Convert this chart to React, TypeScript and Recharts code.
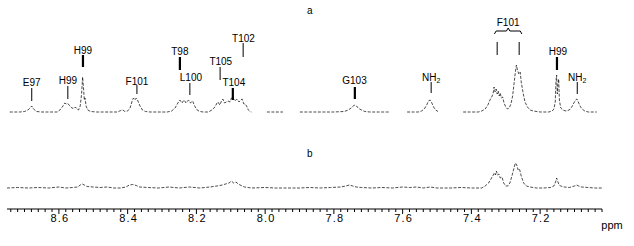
import { ComposedChart, Line, XAxis, YAxis, ReferenceLine, Scatter } from 'recharts';

// spectrum a (top trace), [ppm, intensity above its baseline]; null = cut region
const spectrumA: [number, number | null][] = [
	[8.743, 0], [8.714, 0], [8.7, 0.5], [8.69, 2], [8.684, 4], [8.679, 6], [8.674, 3], [8.665, 0.5], [8.65, 0],
	[8.605, 0], [8.597, 2], [8.59, 5], [8.583, 9], [8.578, 8], [8.574, 8.5], [8.568, 6], [8.562, 4], [8.556, 3.5],
	[8.552, 5], [8.548, 3], [8.543, 2], [8.538, 6], [8.534, 18], [8.531, 35], [8.528, 22], [8.526, 12], [8.524, 14],
	[8.521, 6], [8.516, 2], [8.508, 0.5], [8.49, 0],
	[8.43, 0], [8.42, 1.5], [8.414, 2], [8.408, 0.5], [8.4, 1], [8.393, 4], [8.386, 12], [8.383, 14], [8.379, 12],
	[8.375, 14], [8.37, 11], [8.364, 6], [8.357, 2], [8.348, 0.5], [8.335, 0],
	[8.285, 0], [8.272, 1], [8.262, 4], [8.254, 9], [8.248, 12], [8.242, 9], [8.236, 12], [8.23, 9], [8.223, 12],
	[8.217, 9], [8.211, 11], [8.205, 6], [8.198, 2], [8.19, 0.5], [8.18, 0],
	[8.165, 0], [8.155, 2], [8.146, 5], [8.14, 9], [8.137, 10], [8.132, 7], [8.127, 11], [8.123, 13], [8.118, 9],
	[8.113, 10], [8.108, 11], [8.102, 10], [8.098, 14], [8.094, 15], [8.089, 11], [8.085, 12], [8.082, 13],
	[8.076, 10], [8.071, 12], [8.067, 13], [8.062, 8], [8.058, 8], [8.054, 6], [8.049, 2], [8.044, 0.5], [8.04, 0],
	[8.02, null],
	[7.995, 0], [7.948, 0],
	[7.92, null],
	[7.899, 0], [7.8, 0], [7.77, 0.5], [7.758, 2], [7.75, 4], [7.744, 6], [7.739, 7], [7.734, 6], [7.728, 3.5],
	[7.72, 2], [7.71, 0.5], [7.695, 0], [7.637, 0],
	[7.61, null],
	[7.587, 0], [7.555, 0], [7.545, 1], [7.537, 3], [7.53, 7], [7.525, 11], [7.52, 12], [7.515, 9], [7.51, 5],
	[7.504, 2], [7.497, 0.5],
	[7.46, null],
	[7.424, 0], [7.38, 0], [7.37, 1], [7.36, 3], [7.352, 7], [7.346, 12], [7.341, 15], [7.337, 18], [7.334, 25],
	[7.331, 20], [7.328, 23], [7.325, 18], [7.322, 21], [7.319, 16], [7.316, 19], [7.313, 14], [7.309, 15],
	[7.305, 9], [7.3, 5], [7.295, 3], [7.29, 4], [7.285, 8], [7.28, 16], [7.276, 28], [7.272, 40], [7.269, 47],
	[7.266, 42], [7.262, 38], [7.258, 40], [7.255, 30], [7.25, 20], [7.244, 10], [7.237, 5], [7.229, 2],
	[7.22, 1], [7.2, 0], [7.175, 0], [7.165, 1], [7.16, 3], [7.156, 10], [7.154, 30], [7.152, 37], [7.15, 18],
	[7.148, 28], [7.146, 33], [7.144, 12], [7.14, 4], [7.134, 2], [7.125, 1], [7.115, 2], [7.108, 5], [7.102, 9],
	[7.097, 12], [7.093, 13], [7.089, 10], [7.084, 6], [7.078, 3], [7.07, 1], [7.06, 0], [7.035, 0],
];

// spectrum b (bottom trace)
const spectrumB: [number, number][] = [
	[8.751, 0], [8.72, 0.5], [8.69, 0], [8.66, 0.5], [8.63, 0], [8.6, 1], [8.58, 0], [8.56, 0.5], [8.545, 1],
	[8.538, 3], [8.532, 4], [8.526, 3], [8.518, 1.5], [8.5, 1], [8.48, 0.5], [8.46, 1], [8.44, 0], [8.42, 0],
	[8.405, 1], [8.395, 3], [8.385, 3.5], [8.375, 2.5], [8.365, 1], [8.34, 0.5], [8.31, 0], [8.28, 1], [8.25, 0],
	[8.22, 1], [8.19, 0], [8.16, 1], [8.14, 2], [8.125, 3], [8.115, 4], [8.105, 5], [8.098, 7], [8.092, 5],
	[8.085, 6], [8.078, 4], [8.07, 2.5], [8.06, 1], [8.04, 0], [8.0, 0.5], [7.97, 0], [7.93, 0], [7.9, 0],
	[7.87, 0.5], [7.84, 0], [7.81, 0.5], [7.78, 1], [7.765, 2], [7.755, 3], [7.745, 2], [7.735, 1], [7.72, 0.5],
	[7.69, 0], [7.66, 0.5], [7.63, 0], [7.6, 1], [7.58, 0.5], [7.56, 1], [7.54, 0], [7.52, 1], [7.5, 0],
	[7.46, 0], [7.43, 0.5], [7.4, 0], [7.37, 0], [7.36, 2], [7.35, 5], [7.343, 9], [7.338, 12], [7.333, 15],
	[7.33, 13], [7.327, 17], [7.324, 13], [7.32, 14], [7.316, 10], [7.311, 11], [7.306, 5], [7.3, 2], [7.294, 2],
	[7.288, 5], [7.282, 12], [7.276, 20], [7.272, 25], [7.268, 23], [7.264, 18], [7.26, 19], [7.255, 12],
	[7.248, 5], [7.24, 2], [7.23, 1], [7.21, 0], [7.19, 0], [7.17, 0.5], [7.16, 2], [7.155, 6], [7.152, 10],
	[7.149, 7], [7.145, 3], [7.14, 2], [7.13, 1], [7.115, 0.5], [7.1, 2], [7.094, 3], [7.088, 2], [7.08, 1],
	[7.06, 0.5], [7.04, 0], [7.02, 0],
];

// peak assignments: text, ppm, height of label centre above the axis
const peakLabels = [
	{ text: 'E97', ppm: 8.679, y: 127 },
	{ text: 'H99', ppm: 8.574, y: 129 },
	{ text: 'H99', ppm: 8.53, y: 159 },
	{ text: 'F101', ppm: 8.373, y: 128 },
	{ text: 'T98', ppm: 8.248, y: 158 },
	{ text: 'L100', ppm: 8.216, y: 132 },
	{ text: 'T105', ppm: 8.129, y: 148 },
	{ text: 'T104', ppm: 8.091, y: 127 },
	{ text: 'T102', ppm: 8.063, y: 171 },
	{ text: 'G103', ppm: 7.74, y: 129 },
	{ text: 'NH', sub: '2', ppm: 7.517, y: 132 },
	{ text: 'F101', ppm: 7.293, y: 187 },
	{ text: 'H99', ppm: 7.148, y: 158 },
	{ text: 'NH', sub: '2', ppm: 7.092, y: 132 },
	{ text: 'a', ppm: 7.87, y: 199 },
	{ text: 'b', ppm: 7.87, y: 56 },
];

// leader lines: ppm, from, to, thick
const leaders: [number, number, number, boolean][] = [
	[8.679, 108, 121, false],
	[8.574, 110, 123, false],
	[8.53, 142, 154, true],
	[8.373, 115, 124, false],
	[8.248, 139, 152, true],
	[8.219, 114, 126, false],
	[8.131, 129, 142, false],
	[8.094, 109, 121, true],
	[8.064, 152, 166, false],
	[7.739, 110, 122, true],
	[7.517, 116, 127, false],
	[7.325, 154, 167, false],
	[7.261, 154, 167, false],
	[7.151, 139, 152, true],
	[7.092, 115, 127, false],
];

// brace over the F101 doublet
const brace = [
	{ ppm: 7.333, y: 175 }, { ppm: 7.328, y: 178 }, { ppm: 7.298, y: 178 }, { ppm: 7.293, y: 181 },
	{ ppm: 7.288, y: 178 }, { ppm: 7.258, y: 178 }, { ppm: 7.253, y: 175 },
];

const majorTicks = [8.6, 8.4, 8.2, 8.0, 7.8, 7.6, 7.4, 7.2];
const allTicks: number[] = [];
for (let i = 0; i <= 86; i++) allTicks.push(Math.round((7.02 + i * 0.02) * 100) / 100);

const OFFSET_A = 97;
const OFFSET_B = 21;
const FONT = '"Liberation Sans", Arial, Helvetica, sans-serif';

const dataA = spectrumA.map(([ppm, v]) => ({ ppm, a: v === null ? null : v + OFFSET_A }));
const dataB = spectrumB.map(([ppm, v]) => ({ ppm, b: v + OFFSET_B }));

function PpmTick(props: any) {
	const { x, y, payload } = props;
	const major = majorTicks.some((m) => Math.abs(m - payload.value) < 1e-6);
	return (
		<g>
			<line x1={x} x2={x} y1={y} y2={y + (major ? 5 : 3)} stroke='#000' strokeWidth={1} />
			{major && (
				<text x={x + 1} y={y + 13} textAnchor='middle' fontSize={11} letterSpacing={1.2} fontFamily={FONT} fill='#000'>
					{payload.value.toFixed(1)}
				</text>
			)}
		</g>
	);
}

function PeakLabel(props: any) {
	const { cx, cy, payload } = props;
	return (
		<text x={cx} y={cy + 3.6} textAnchor='middle' fontSize={10} fontFamily={FONT} fill='#000'>
			{payload.text}
			{payload.sub && (
				<tspan fontSize={7} dy={2}>
					{payload.sub}
				</tspan>
			)}
		</text>
	);
}

export default function App() {
	return (
		<div style={{ position: 'fixed', left: 0, top: 0, width: 634, height: 246, background: '#fff' }}>
			<ComposedChart width={634} height={246} margin={{ top: 0, right: 32, bottom: 0, left: 7 }}>
				<XAxis
					type='number'
					dataKey='ppm'
					domain={[7.02, 8.751]}
					reversed
					allowDataOverflow
					ticks={allTicks}
					interval={0}
					tick={PpmTick}
					tickLine={false}
					tickSize={0}
					tickMargin={0}
					axisLine={{ stroke: '#000', strokeWidth: 1 }}
					height={37}
				/>
				<YAxis hide type='number' domain={[0, 209]} allowDataOverflow />
				<Line data={dataA} dataKey='a' type='linear' stroke='#000' strokeWidth={0.7} strokeDasharray='3 1.5' dot={false} isAnimationActive={false} />
				<Line data={dataB} dataKey='b' type='linear' stroke='#000' strokeWidth={0.7} strokeDasharray='3 1.5' dot={false} isAnimationActive={false} />
				<Line data={brace} dataKey='y' type='linear' stroke='#000' strokeWidth={1} dot={false} isAnimationActive={false} />
				{leaders.map(([ppm, y1, y2, thick], i) => (
					<ReferenceLine
						key={i}
						segment={[{ x: ppm, y: y1 }, { x: ppm, y: y2 }]}
						stroke='#000'
						strokeWidth={thick ? 2.2 : 1}
					/>
				))}
				<Scatter data={peakLabels} dataKey='y' shape={PeakLabel} isAnimationActive={false} />
				<text x={612} y={229} textAnchor='middle' fontSize={11} fontFamily={FONT} fill='#000'>
					ppm
				</text>
			</ComposedChart>
		</div>
	);
}
